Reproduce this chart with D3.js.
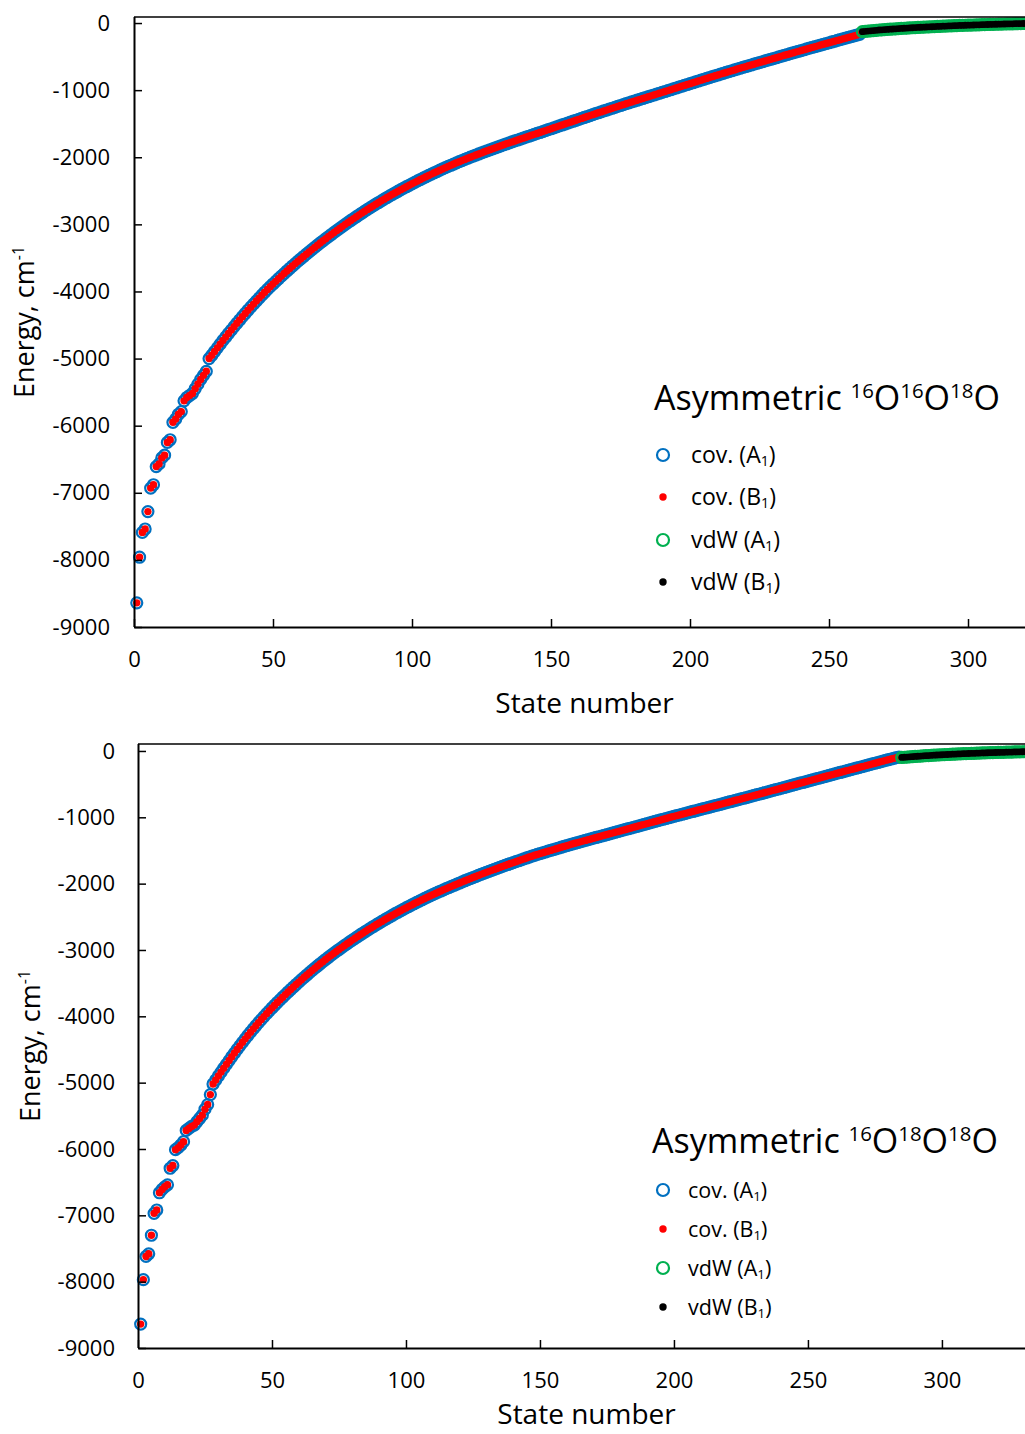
<!DOCTYPE html>
<html>
<head>
<meta charset="utf-8">
<script src="https://cdn.jsdelivr.net/npm/d3@7"></script>
<style>
  body { margin: 0; background: #fff; }
  svg text { font-family: "Open Sans", sans-serif; fill: #000; }
</style>
</head>
<body>
<svg id="chart" width="1025" height="1434"></svg>
<script>
const xTicks = [0, 50, 100, 150, 200, 250, 300];
const yTicks = [0, -1000, -2000, -3000, -4000, -5000, -6000, -7000, -8000, -9000];
const seriesNames = ['cov. (A', 'cov. (B', 'vdW (A', 'vdW (B'];

// 16O16O18O : covalent states (A1 and B1 coincide at this scale)
const topCovStart = 1;
const topCov = [
  -8640,-7960,-7590,-7540,-7280,-6930,-6880,-6610,-6570,-6480,
  -6440,-6250,-6210,-5950,-5900,-5830,-5790,-5630,-5580,-5550,
  -5520,-5450,-5380,-5310,-5250,-5190,-5000,-4950,-4895,-4840,
  -4785,-4730,-4678,-4626,-4575,-4524,-4474,-4425,-4376,-4328,
  -4280,-4234,-4188,-4143,-4099,-4055,-4012,-3970,-3929,-3889,
  -3849,-3810,-3771,-3733,-3695,-3658,-3621,-3585,-3549,-3514,
  -3479,-3444,-3410,-3376,-3343,-3310,-3277,-3245,-3213,-3182,
  -3151,-3120,-3090,-3060,-3030,-3000,-2971,-2942,-2914,-2886,
  -2858,-2831,-2804,-2777,-2751,-2725,-2699,-2674,-2649,-2624,
  -2600,-2576,-2552,-2529,-2506,-2483,-2461,-2439,-2417,-2395,
  -2374,-2353,-2332,-2311,-2291,-2271,-2251,-2231,-2212,-2193,
  -2174,-2155,-2137,-2119,-2101,-2083,-2066,-2049,-2032,-2015,
  -1999,-1983,-1967,-1951,-1935,-1919,-1904,-1889,-1874,-1859,
  -1844,-1829,-1814,-1799,-1785,-1771,-1757,-1743,-1729,-1715,
  -1701,-1687,-1673,-1659,-1645,-1631,-1617,-1603,-1589,-1575,
  -1561,-1547,-1533,-1519,-1505,-1491,-1477,-1463,-1449,-1435,
  -1421,-1407,-1393,-1379,-1365,-1351,-1337,-1324,-1310,-1297,
  -1283,-1270,-1256,-1243,-1229,-1216,-1202,-1189,-1176,-1163,
  -1150,-1137,-1124,-1111,-1098,-1085,-1072,-1059,-1046,-1033,
  -1020,-1007,-994,-981,-968,-955,-942,-929,-916,-903,
  -890,-877,-864,-851,-838,-825,-812,-799,-786,-774,
  -761,-749,-736,-724,-711,-699,-686,-674,-661,-649,
  -637,-625,-613,-601,-589,-577,-565,-553,-541,-529,
  -517,-505,-493,-481,-469,-457,-445,-433,-422,-410,
  -398,-386,-375,-363,-351,-340,-328,-317,-305,-294,
  -282,-271,-259,-248,-236,-225,-214,-202,-191,-180,
  -168
];
// 16O16O18O : van der Waals states
const topVdwStart = 262;
const topVdw = [
  -128,-124,-120,-116,-112,-108,-104,-101,-98,
  -95,-92,-89,-86,-83,-80,-78,-75,-73,-70,
  -68,-66,-63,-61,-59,-57,-55,-53,-51,-49,
  -47,-45,-43,-42,-40,-38,-36,-35,-33,-32,
  -30,-29,-27,-26,-24,-23,-22,-20,-19,-18,
  -17,-16,-14,-13,-12,-11,-10,-9,-8,-7,
  -6,-5,-5,-4,-3
];

// 16O18O18O : covalent states
const botCovStart = 1;
const botCov = [
  -8640,-7970,-7620,-7580,-7300,-6970,-6920,-6660,-6610,-6570,
  -6540,-6290,-6250,-6010,-5980,-5940,-5890,-5720,-5690,-5660,
  -5640,-5590,-5540,-5490,-5400,-5330,-5180,-5020,-4960,-4900,
  -4841,-4782,-4724,-4667,-4610,-4554,-4499,-4445,-4392,-4340,
  -4289,-4239,-4190,-4142,-4095,-4049,-4004,-3960,-3917,-3875,
  -3833,-3792,-3752,-3712,-3673,-3634,-3596,-3558,-3521,-3484,
  -3448,-3412,-3377,-3342,-3308,-3274,-3241,-3208,-3176,-3144,
  -3113,-3082,-3052,-3022,-2993,-2964,-2935,-2907,-2879,-2851,
  -2824,-2797,-2770,-2744,-2718,-2692,-2667,-2642,-2617,-2593,
  -2569,-2545,-2522,-2499,-2476,-2453,-2431,-2409,-2387,-2366,
  -2345,-2324,-2303,-2283,-2263,-2243,-2223,-2204,-2185,-2166,
  -2147,-2129,-2111,-2093,-2075,-2058,-2041,-2024,-2007,-1990,
  -1973,-1956,-1940,-1924,-1908,-1892,-1876,-1860,-1845,-1830,
  -1815,-1800,-1785,-1770,-1755,-1740,-1725,-1711,-1697,-1683,
  -1669,-1655,-1641,-1627,-1613,-1599,-1586,-1573,-1560,-1547,
  -1535,-1523,-1511,-1499,-1487,-1475,-1463,-1451,-1439,-1427,
  -1415,-1403,-1392,-1381,-1370,-1359,-1348,-1337,-1326,-1315,
  -1304,-1293,-1282,-1271,-1260,-1249,-1238,-1227,-1216,-1205,
  -1194,-1183,-1172,-1161,-1150,-1139,-1128,-1117,-1106,-1095,
  -1084,-1073,-1062,-1051,-1040,-1029,-1018,-1007,-996,-986,
  -975,-965,-954,-944,-933,-923,-912,-902,-891,-881,
  -870,-860,-849,-839,-828,-818,-807,-797,-786,-776,
  -765,-755,-744,-734,-723,-713,-702,-692,-681,-670,
  -659,-649,-638,-627,-616,-605,-594,-584,-573,-562,
  -551,-540,-529,-519,-508,-497,-486,-475,-465,-454,
  -443,-432,-421,-411,-400,-389,-378,-368,-357,-346,
  -335,-324,-314,-303,-292,-281,-271,-260,-249,-238,
  -228,-217,-206,-195,-185,-174,-163,-153,-142,-132,
  -121,-111,-101,-92
];
// 16O18O18O : van der Waals states
const botVdwStart = 285;
const botVdw = [
  -98,-95,-92,-89,-86,-83,
  -80,-77,-74,-71,-69,-66,-64,-61,-59,-57,
  -55,-53,-51,-49,-47,-45,-43,-41,-40,-38,
  -36,-35,-33,-32,-30,-29,-27,-26,-25,-23,
  -22,-21,-20,-18,-17,-16,-15,-14,-13,-12,
  -11,-10,-9,-8,-7
];

const colors = { covA: '#0070C0', covB: '#FF0000', vdwA: '#00B050', vdwB: '#000000' };

const svg = d3.select('#chart');

function drawPanel(p) {
  const x = d3.scaleLinear().domain([0, p.xMax]).range([p.left, p.right]);
  const y = d3.scaleLinear().domain([-9000, p.eTop]).range([p.bottom, p.top]);
  const g = svg.append('g');

  const cov = p.cov.map((e, i) => ({ n: p.covStart + i, e }));
  const vdw = p.vdw.map((e, i) => ({ n: p.vdwStart + i, e }));

  const marks = g.append('g');
  marks.selectAll('.ca').data(cov).join('circle')
    .attr('cx', d => x(d.n)).attr('cy', d => y(d.e)).attr('r', 5.5)
    .attr('fill', 'none').attr('stroke', colors.covA).attr('stroke-width', 2.2);
  marks.selectAll('.cb').data(cov).join('circle')
    .attr('cx', d => x(d.n)).attr('cy', d => y(d.e)).attr('r', 3.7)
    .attr('fill', colors.covB);
  marks.selectAll('.va').data(vdw).join('circle')
    .attr('cx', d => x(d.n)).attr('cy', d => y(d.e)).attr('r', 5.5)
    .attr('fill', 'none').attr('stroke', colors.vdwA).attr('stroke-width', 2.2);
  marks.selectAll('.vb').data(vdw).join('circle')
    .attr('cx', d => x(d.n)).attr('cy', d => y(d.e)).attr('r', 3.4)
    .attr('fill', colors.vdwB);

  // axes, ticks pointing inside
  const yAxis = g.append('g').attr('transform', `translate(${p.left},0)`)
    .call(d3.axisLeft(y).tickValues(yTicks).tickSize(-8).tickSizeOuter(0)
      .tickPadding(p.yPad).tickFormat(d => String(d)));
  const xAxis = g.append('g').attr('transform', `translate(0,${p.bottom})`)
    .call(d3.axisBottom(x).tickValues(xTicks).tickSize(-8).tickSizeOuter(0)
      .tickPadding(24).tickFormat(d => String(d)));
  [yAxis, xAxis].forEach(a => {
    a.select('.domain').attr('stroke', '#000').attr('stroke-width', 2);
    a.selectAll('.tick line').attr('stroke', '#000').attr('stroke-width', 1.5);
    a.selectAll('.tick text').attr('font-size', 22).attr('font-family', '"Open Sans", sans-serif');
  });
  yAxis.select('.domain').attr('d', `M0.5,${p.top}V${p.bottom}`);
  g.append('line').attr('x1', p.left).attr('x2', 1025).attr('y1', p.top).attr('y2', p.top)
    .attr('stroke', '#000').attr('stroke-width', 1.5);

  // axis titles
  g.append('text').attr('x', (p.left + 1025) / 2 + 5).attr('y', p.xTitleY)
    .attr('text-anchor', 'middle').attr('font-size', 28).text('State number');
  const yt = g.append('text').attr('transform', `translate(${p.yTitleX},${p.yTitleY}) rotate(-90)`)
    .attr('text-anchor', 'middle').attr('font-size', 27);
  yt.append('tspan').text('Energy, cm');
  yt.append('tspan').attr('font-size', 16).attr('baseline-shift', 10).text('-1');

  // legend
  const lg = g.append('g');
  const title = lg.append('text').attr('x', p.lg.titleX).attr('y', p.lg.titleY).attr('font-size', p.lg.titleFs);
  title.append('tspan').text('Asymmetric ');
  p.isotopes.forEach(m => {
    title.append('tspan').attr('font-size', p.lg.titleFs * 0.6).attr('baseline-shift', p.lg.titleFs * 0.36).text(m);
    title.append('tspan').text('O');
  });
  const kinds = ['covA', 'covB', 'vdwA', 'vdwB'];
  kinds.forEach((k, i) => {
    const cy = p.lg.rows[i];
    if (k.endsWith('A')) {
      lg.append('circle').attr('cx', p.lg.markX).attr('cy', cy).attr('r', 6)
        .attr('fill', 'none').attr('stroke', colors[k]).attr('stroke-width', 2.2);
    } else {
      lg.append('circle').attr('cx', p.lg.markX).attr('cy', cy).attr('r', 3.7).attr('fill', colors[k]);
    }
    const t = lg.append('text').attr('x', p.lg.textX).attr('y', cy + p.lg.fs * 0.36).attr('font-size', p.lg.fs);
    t.append('tspan').text(seriesNames[i]);
    t.append('tspan').attr('font-size', p.lg.fs * 0.62).attr('baseline-shift', -3).text('1');
    t.append('tspan').text(')');
  });
}

drawPanel({
  left: 134, right: 1025, xMax: 320.5, top: 17, bottom: 627, eTop: 90,
  yPad: 24, xTitleY: 713, yTitleX: 34, yTitleY: 322,
  cov: topCov, covStart: topCovStart, vdw: topVdw, vdwStart: topVdwStart,
  isotopes: ['16', '16', '18'],
  lg: { titleX: 654, titleY: 410, titleFs: 34, markX: 663, textX: 691, fs: 23, rows: [455, 497, 540, 582] }
});
drawPanel({
  left: 138, right: 1025, xMax: 331, top: 744, bottom: 1348, eTop: 105,
  yPad: 23, xTitleY: 1424, yTitleX: 40, yTitleY: 1046,
  cov: botCov, covStart: botCovStart, vdw: botVdw, vdwStart: botVdwStart,
  isotopes: ['16', '18', '18'],
  lg: { titleX: 652, titleY: 1153, titleFs: 34, markX: 663, textX: 688, fs: 21.5, rows: [1190, 1229, 1268, 1307] }
});
</script>
</body>
</html>
